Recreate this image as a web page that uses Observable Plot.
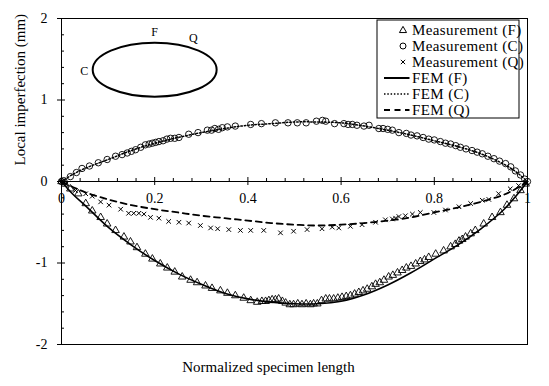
<!DOCTYPE html>
<html>
<head>
<meta charset="utf-8">
<script src="https://cdn.jsdelivr.net/npm/d3@7"></script>
<script src="https://cdn.jsdelivr.net/npm/@observablehq/plot@0.6"></script>
<style>
  html, body { margin: 0; padding: 0; background: #fff; }
  svg { font-family: "Liberation Serif", "Times New Roman", serif; }
</style>
</head>
<body>
<div id="chart"></div>
<script>
// ---------- data ----------
const measCx = [0,0.005,0.019,0.032,0.044,0.06,0.079,0.098,0.116,0.13,0.141,0.15,0.159,0.17,0.18,0.188,0.195,0.202,0.209,0.218,0.226,0.234,0.243,0.252,0.273,0.293,0.313,0.322,0.329,0.337,0.345,0.356,0.373,0.406,0.429,0.459,0.486,0.506,0.525,0.547,0.56,0.567,0.586,0.606,0.615,0.624,0.634,0.649,0.66,0.681,0.69,0.70,0.71,0.724,0.74,0.75,0.763,0.776,0.788,0.8,0.813,0.824,0.835,0.846,0.856,0.868,0.881,0.892,0.903,0.915,0.928,0.94,0.953,0.964,0.974,0.985,0.994,1.0];
const measCy = [0,0.01,0.06,0.11,0.16,0.19,0.23,0.27,0.31,0.33,0.35,0.37,0.39,0.42,0.45,0.46,0.47,0.48,0.49,0.50,0.52,0.53,0.53,0.54,0.58,0.60,0.63,0.63,0.65,0.64,0.66,0.67,0.68,0.70,0.71,0.72,0.72,0.72,0.72,0.74,0.75,0.74,0.71,0.71,0.70,0.70,0.69,0.68,0.69,0.65,0.65,0.64,0.63,0.60,0.59,0.57,0.56,0.54,0.52,0.51,0.49,0.47,0.46,0.44,0.42,0.40,0.38,0.36,0.34,0.31,0.28,0.25,0.22,0.18,0.13,0.08,0.03,0];

const measFx = [0,0.008,0.019,0.036,0.052,0.066,0.084,0.098,0.116,0.134,0.148,0.162,0.18,0.195,0.212,0.227,0.243,0.259,0.277,0.291,0.309,0.323,0.341,0.356,0.373,0.391,0.406,0.42,0.43,0.438,0.445,0.452,0.459,0.466,0.474,0.481,0.49,0.498,0.507,0.516,0.525,0.534,0.541,0.549,0.558,0.567,0.575,0.584,0.593,0.602,0.611,0.62,0.629,0.638,0.647,0.656,0.666,0.674,0.683,0.692,0.702,0.711,0.721,0.731,0.74,0.75,0.76,0.77,0.779,0.788,0.803,0.82,0.835,0.845,0.853,0.86,0.867,0.878,0.888,0.906,0.924,0.942,0.956,0.971,0.985,0.996];
const measFy = [0,-0.03,-0.09,-0.15,-0.27,-0.36,-0.44,-0.52,-0.60,-0.68,-0.74,-0.81,-0.89,-0.95,-1.01,-1.06,-1.11,-1.17,-1.21,-1.24,-1.28,-1.31,-1.34,-1.37,-1.40,-1.43,-1.46,-1.48,-1.47,-1.47,-1.46,-1.45,-1.45,-1.44,-1.47,-1.49,-1.51,-1.51,-1.50,-1.51,-1.50,-1.51,-1.50,-1.50,-1.46,-1.44,-1.44,-1.44,-1.43,-1.42,-1.41,-1.40,-1.38,-1.36,-1.34,-1.32,-1.29,-1.26,-1.24,-1.21,-1.17,-1.15,-1.12,-1.09,-1.06,-1.04,-1.01,-0.98,-0.96,-0.93,-0.89,-0.85,-0.80,-0.77,-0.73,-0.71,-0.68,-0.64,-0.60,-0.52,-0.44,-0.38,-0.29,-0.21,-0.11,-0.03];

const measQx = [0,0.01,0.03,0.052,0.066,0.084,0.102,0.127,0.144,0.155,0.166,0.177,0.191,0.209,0.23,0.252,0.273,0.298,0.32,0.335,0.359,0.384,0.406,0.434,0.47,0.498,0.527,0.559,0.581,0.595,0.62,0.645,0.674,0.695,0.71,0.717,0.724,0.738,0.753,0.77,0.799,0.824,0.853,0.878,0.903,0.917,0.938,0.963,0.981,0.995];
const measQy = [0,-0.03,-0.11,-0.15,-0.18,-0.25,-0.29,-0.34,-0.39,-0.39,-0.39,-0.40,-0.44,-0.45,-0.49,-0.50,-0.51,-0.54,-0.57,-0.58,-0.59,-0.60,-0.60,-0.60,-0.63,-0.61,-0.59,-0.58,-0.56,-0.57,-0.55,-0.53,-0.50,-0.47,-0.46,-0.45,-0.43,-0.42,-0.40,-0.38,-0.38,-0.35,-0.31,-0.27,-0.23,-0.22,-0.15,-0.09,-0.05,-0.01];

const femFx = [0,0.025,0.05,0.1,0.15,0.2,0.25,0.3,0.35,0.4,0.45,0.5,0.55,0.6,0.65,0.7,0.75,0.8,0.85,0.9,0.95,0.975,1];
const femFy = [0,-0.16,-0.29,-0.56,-0.78,-0.97,-1.13,-1.26,-1.37,-1.44,-1.48,-1.50,-1.50,-1.47,-1.39,-1.27,-1.12,-0.95,-0.78,-0.58,-0.34,-0.18,0];

const femCx = [0,0.025,0.05,0.1,0.15,0.2,0.25,0.3,0.35,0.4,0.45,0.5,0.55,0.6,0.65,0.7,0.75,0.8,0.85,0.9,0.95,0.975,1];
const femCy = [0,0.09,0.16,0.27,0.38,0.47,0.54,0.60,0.65,0.69,0.71,0.73,0.73,0.72,0.68,0.63,0.57,0.50,0.43,0.34,0.21,0.12,0];

const femQx = [0,0.025,0.05,0.1,0.15,0.2,0.25,0.3,0.35,0.4,0.45,0.5,0.55,0.6,0.65,0.7,0.75,0.8,0.85,0.9,0.95,0.975,1];
const femQy = [0,-0.07,-0.13,-0.22,-0.29,-0.34,-0.38,-0.42,-0.45,-0.48,-0.51,-0.53,-0.54,-0.53,-0.51,-0.48,-0.44,-0.38,-0.32,-0.25,-0.16,-0.09,0];

const xMajor = [0, 0.2, 0.4, 0.6, 0.8, 1];
const xMinor = [0.04,0.08,0.12,0.16,0.24,0.28,0.32,0.36,0.44,0.48,0.52,0.56,0.64,0.68,0.72,0.76,0.84,0.88,0.92,0.96];
const yMajor = [-2, -1, 0, 1, 2];
const yMinor = [-1.8,-1.6,-1.4,-1.2,-0.8,-0.6,-0.4,-0.2,0.2,0.4,0.6,0.8,1.2,1.4,1.6,1.8];

const legendLabels = ["Measurement (F)", "Measurement (C)", "Measurement (Q)", "FEM (F)", "FEM (C)", "FEM (Q)"];
const insetLabels = ["F", "Q", "C"];
const insetLabelX = [0.2, 0.283, 0.049];
const insetLabelY = [1.83, 1.76, 1.36];
const insetEllipse = {cx: 0.201, cy: 1.366, rx: 0.133, ry: 0.331};

const xTitle = "Normalized specimen length";
const yTitle = "Local imperfection (mm)";

// ---------- layout ----------
const W = 549, H = 386;
const mL = 61, mR = 22, mT = 18, mB = 42;
const zeroShift = -(H - mT - mB) / 2; // shift from frame bottom to y = 0
const font = "'Liberation Serif', 'Times New Roman', serif";

const zip = (xs, ys) => xs.map((x, i) => ({x, y: ys[i]}));
const measF = zip(measFx, measFy), measC = zip(measCx, measCy), measQ = zip(measQx, measQy);
const femF = zip(femFx, femFy), femC = zip(femCx, femCy), femQ = zip(femQx, femQy);
const insetText = insetLabels.map((t, i) => ({t, x: insetLabelX[i], y: insetLabelY[i]}));

function ellipseMark(_, scales) {
  const x = scales.x, y = scales.y;
  const g = d3.create("svg:g");
  g.append("ellipse")
    .attr("cx", x(insetEllipse.cx)).attr("cy", y(insetEllipse.cy))
    .attr("rx", x(insetEllipse.cx + insetEllipse.rx) - x(insetEllipse.cx))
    .attr("ry", y(insetEllipse.cy) - y(insetEllipse.cy + insetEllipse.ry))
    .attr("fill", "none").attr("stroke", "black").attr("stroke-width", 2);
  return g.node();
}

function legendMark() {
  const g = d3.create("svg:g").style("font-family", font).attr("font-size", 15).attr("text-anchor", "start");
  const bx = 377, by = 20, bw = 142, bh = 98, rowH = 16, r0 = 30;
  g.append("rect").attr("x", bx).attr("y", by).attr("width", bw).attr("height", bh)
    .attr("fill", "white").attr("stroke", "black").attr("stroke-width", 1);
  legendLabels.forEach((lab, i) => {
    const cy = r0 + i * rowH;
    const sx = 403;
    if (i === 0) {
      g.append("path").attr("d", d3.symbol(d3.symbolTriangle, 22)()).attr("transform", `translate(${sx},${cy + 0.5})`)
        .attr("fill", "none").attr("stroke", "black").attr("stroke-width", 1);
    } else if (i === 1) {
      g.append("circle").attr("cx", sx).attr("cy", cy).attr("r", 3).attr("fill", "none").attr("stroke", "black");
    } else if (i === 2) {
      g.append("path").attr("d", d3.symbol(d3.symbolTimes, 14)()).attr("transform", `translate(${sx},${cy})`)
        .attr("fill", "none").attr("stroke", "black").attr("stroke-width", 1);
    } else {
      const dash = i === 3 ? null : i === 4 ? "1.5,1.8" : "6,4.5";
      g.append("line").attr("x1", 384).attr("x2", 409.5).attr("y1", cy).attr("y2", cy)
        .attr("stroke", "black").attr("stroke-width", i === 4 ? 1.5 : 2)
        .attr("stroke-dasharray", dash);
    }
    g.append("text").attr("x", 412).attr("y", cy).attr("dy", "0.35em").attr("fill", "black")
      .attr("text-anchor", "start").attr("letter-spacing", "0.4px").text(lab);
  });
  return g.node();
}

const chart = Plot.plot({
  width: W, height: H,
  marginLeft: mL, marginRight: mR, marginTop: mT, marginBottom: mB,
  style: "font-family: 'Liberation Serif', 'Times New Roman', serif; font-size: 14px; color: black; background: white; overflow: visible;",
  x: {domain: [0, 1], label: null},
  y: {domain: [-2, 2], label: null},
  marks: [
    Plot.frame({stroke: "black", strokeWidth: 1}),
    Plot.ruleY([0], {stroke: "black", strokeWidth: 1}),
    // x axis at y = 0
    Plot.axisX(xMajor, {anchor: "bottom", tickSize: 8, dy: zeroShift - 4, text: null, stroke: "black"}),
    Plot.axisX(xMinor, {anchor: "bottom", tickSize: -3, dy: zeroShift, text: null, stroke: "black"}),
    Plot.axisX(xMajor, {anchor: "bottom", tickSize: 0, tickPadding: 12, dy: zeroShift, tickFormat: d => String(d), fill: "black", fontSize: 14, fontFamily: font}),
    // y axis
    Plot.axisY(yMajor, {anchor: "left", tickSize: 8, dx: 4, text: null, stroke: "black"}),
    Plot.axisY(yMinor, {anchor: "left", tickSize: -3, text: null, stroke: "black"}),
    Plot.axisY(yMajor, {anchor: "left", tickSize: 0, tickPadding: 14, tickFormat: d => String(d), fill: "black", fontSize: 14, fontFamily: font}),
    // FEM lines
    Plot.line(femF, {x: "x", y: "y", stroke: "black", strokeWidth: 1.6, curve: "catmull-rom"}),
    Plot.line(femC, {x: "x", y: "y", stroke: "black", strokeWidth: 1.5, strokeDasharray: "1.5,2", curve: "catmull-rom"}),
    Plot.line(femQ, {x: "x", y: "y", stroke: "black", strokeWidth: 1.8, strokeDasharray: "6,4.5", curve: "catmull-rom"}),
    // measurements
    Plot.dot(measF, {x: "x", y: "y", symbol: "triangle", r: 2.8, stroke: "black", fill: "none", strokeWidth: 0.9}),
    Plot.dot(measC, {x: "x", y: "y", symbol: "circle", r: 3.2, stroke: "black", fill: "none", strokeWidth: 0.9}),
    Plot.dot(measQ, {x: "x", y: "y", symbol: "times", r: 2.2, stroke: "black", fill: "none", strokeWidth: 1}),
    // inset
    ellipseMark,
    Plot.text(insetText, {x: "x", y: "y", text: "t", fontSize: 12, fill: "black", fontFamily: font}),
    legendMark,
    // axis titles
    Plot.text([xTitle], {frameAnchor: "bottom", dx: -26, dy: 27, fontSize: 15, fill: "black", fontFamily: font}),
    Plot.text([yTitle], {frameAnchor: "left", dx: -41, dy: -16, rotate: -90, fontSize: 15, fill: "black", fontFamily: font})
  ]
});
document.getElementById("chart").appendChild(chart);
</script>
</body>
</html>
